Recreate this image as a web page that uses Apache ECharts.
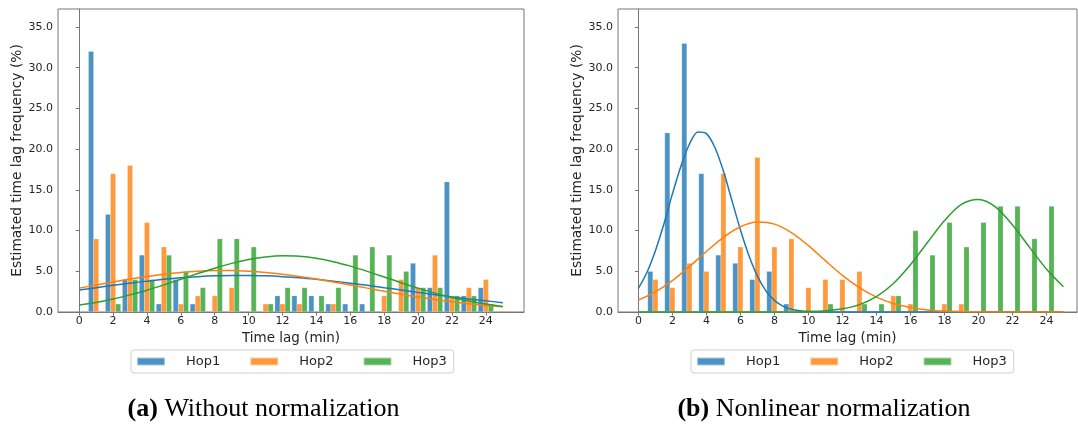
<!DOCTYPE html>
<html>
<head>
<meta charset="utf-8">
<script src="https://cdn.jsdelivr.net/npm/echarts@6/dist/echarts.min.js"></script>
<style>
html, body { margin: 0; padding: 0; background: #fff; }
#main { width: 1078px; height: 426px; }
</style>
</head>
<body>
<div id="main"></div>
<script>
// time lags (min) of the histogram bins
var lags = [1,2,3,4,5,6,7,8,9,10,11,12,13,14,15,16,17,18,19,20,21,22,23,24];
var hopNames = ['Hop1', 'Hop2', 'Hop3'];
var xTicks = [0,2,4,6,8,10,12,14,16,18,20,22,24];
var yTicks = [0,5,10,15,20,25,30,35];

// (a) without normalization, frequency in %
var rawHop1 = [32,12,4,7,1,4,1,0,0,0,0,2,2,2,1,1,1,0,0,6,3,16,2,3];
var rawHop2 = [9,17,18,11,8,1,2,2,3,0,1,1,1,0,1,0,0,2,4,3,7,2,3,4];
var rawHop3 = [0,1,4,4,7,5,3,9,9,8,1,3,3,2,3,7,8,7,5,3,3,2,2,1];

// (b) nonlinear normalization
var nlHop1 = [5,22,33,17,7,6,4,5,1,0,0,0,0,0,0,0,0,0,0,0,0,0,0,0];
var nlHop2 = [4,3,6,5,17,8,19,8,9,3,4,4,5,0,2,1,0,1,1,0,0,0,0,0];
var nlHop3 = [0,0,0,0,0,0,0,0,0,0,1,0,1,1,2,10,7,11,8,11,13,13,9,13];

// fitted curves
var fitX = [0,1,2,3,4,5,6,7,8,9,10,11,12,13,14,15,16,17,18,19,20,21,22,23,24,25];
var rawFit1 = [2.7,2.98,3.27,3.54,3.79,4.01,4.2,4.34,4.44,4.49,4.49,4.44,4.34,4.2,4.01,3.79,3.54,3.27,2.98,2.7,2.41,2.13,1.85,1.6,1.37,1.15];
var rawFit2 = [2.93,3.31,3.68,4.04,4.36,4.64,4.86,5.01,5.09,5.09,5.01,4.86,4.64,4.36,4.04,3.68,3.31,2.93,2.55,2.18,1.84,1.53,1.26,1.01,0.8,0.63];
var rawFit3 = [0.85,1.18,1.59,2.1,2.68,3.33,4.02,4.72,5.38,5.97,6.44,6.76,6.9,6.84,6.59,6.18,5.63,4.99,4.3,3.6,2.93,2.32,1.78,1.34,0.97,0.68];

var nlFit1X = [0,0.5,1,1.5,2,2.5,3,3.5,4,4.5,5,5.5,6,6.5,7,7.5,8,8.5,9,9.5,10,11,12,13,14,15,16,17,18,19,20,21,22,23,24,25];
var nlFit1 = [2.9,4.85,7.53,10.8,14.5,17.9,20.6,22.1,21.9,20.2,17.3,13.7,10.1,6.94,4.41,2.6,1.43,0.73,0.34,0.15,0.06,0,0,0,0,0,0,0,0,0,0,0,0,0,0,0];
var nlFit2 = [1.47,2.48,3.86,5.57,7.43,9.16,10.46,11.04,10.79,9.75,8.15,6.3,4.5,2.99,1.83,1.04,0.55,0.26,0.11,0.05,0.02,0,0,0,0,0];
var nlFit3 = [0,0,0,0,0,0,0,0,0,0,0.05,0.15,0.39,0.91,1.89,3.5,5.8,8.53,11.2,13.2,13.8,12.9,10.7,7.97,5.28,3.1];

var barColors = ['#4c92c3', '#ff993e', '#56b356'];
var lineColors = ['#1f77b4', '#ff7f0e', '#2ca02c'];
var offsets = [-0.3, 0, 0.3];
var axisGray = '#777';
var textColor = '#262626';

var myChart = echarts.init(document.getElementById('main'));

function barSeries(k, values, idx) {
    return {
        type: 'bar',
        name: hopNames[k],
        xAxisIndex: idx,
        yAxisIndex: idx,
        barWidth: 5.4,
        barGap: '-100%',
        z: 2,
        itemStyle: { color: barColors[k], borderColor: 'rgba(255,255,255,0.5)', borderWidth: 0.4 },
        data: lags.map(function (l, i) { return [l + offsets[k], values[i]]; })
                  .filter(function (d) { return d[1] > 0; })
    };
}

function lineSeries(k, xs, values, idx) {
    return {
        type: 'line',
        name: hopNames[k] + ' fit',
        xAxisIndex: idx,
        yAxisIndex: idx,
        showSymbol: false,
        smooth: 0.3,
        silent: true,
        z: 5,
        lineStyle: { color: lineColors[k], width: 1.5 },
        itemStyle: { color: lineColors[k] },
        data: xs.map(function (x, i) { return [x, values[i]]; })
    };
}

function xAxisOf(idx, min, max) {
    return {
        type: 'value', gridIndex: idx, min: min, max: max,
        name: 'Time lag (min)', nameLocation: 'middle', nameGap: 17,
        nameTextStyle: { fontSize: 13.5, color: textColor },
        splitLine: { show: false },
        axisLine: { lineStyle: { color: axisGray } },
        axisTick: { customValues: xTicks, length: 3.5, lineStyle: { color: axisGray } },
        axisLabel: { customValues: xTicks, fontSize: 11, color: textColor, margin: 4 }
    };
}

function yAxisOf(idx) {
    return {
        type: 'value', gridIndex: idx, min: 0, max: 37.2,
        name: 'Estimated time lag frequency (%)', nameLocation: 'middle', nameGap: 33,
        nameTextStyle: { fontSize: 13.8, color: textColor },
        splitLine: { show: false },
        axisLine: { show: true, lineStyle: { color: axisGray } },
        axisTick: { show: true, customValues: yTicks, length: 3.5, lineStyle: { color: axisGray } },
        axisLabel: { customValues: yTicks, fontSize: 11, color: textColor, margin: 5,
            formatter: function (v) { return v.toFixed(1); } }
    };
}

function legendOf(left) {
    return {
        left: left, top: 350, orient: 'horizontal',
        data: hopNames, icon: 'rect',
        itemWidth: 28, itemHeight: 8, itemGap: 29,
        textStyle: { fontSize: 13, color: textColor, padding: [0, 0, 0, 16] },
        borderColor: '#d0d0d0', borderWidth: 1, borderRadius: 3,
        padding: [5, 7, 5, 5]
    };
}

var option = {
    animation: false,
    textStyle: { fontFamily: 'DejaVu Sans' },
    grid: [
        { left: 58, top: 9, width: 466, height: 303, show: true, borderColor: axisGray, borderWidth: 1 },
        { left: 618, top: 9, width: 459, height: 303, show: true, borderColor: axisGray, borderWidth: 1 }
    ],
    xAxis: [xAxisOf(0, -1.25, 26.25), xAxisOf(1, -1.2, 25.8)],
    yAxis: [yAxisOf(0), yAxisOf(1)],
    legend: [legendOf(131), legendOf(691)],
    graphic: [
        { type: 'text', x: 263.5, y: 409, style: {
            text: '{b|(a)} Without normalization', align: 'center', verticalAlign: 'middle',
            fontSize: 26, fontFamily: 'Liberation Serif', fill: '#000',
            rich: { b: { fontSize: 26, fontFamily: 'Liberation Serif', fontWeight: 'bold', fill: '#000' } } } },
        { type: 'text', x: 824, y: 409, style: {
            text: '{b|(b)} Nonlinear normalization', align: 'center', verticalAlign: 'middle',
            fontSize: 26, fontFamily: 'Liberation Serif', fill: '#000',
            rich: { b: { fontSize: 26, fontFamily: 'Liberation Serif', fontWeight: 'bold', fill: '#000' } } } }
    ],
    series: [
        barSeries(0, rawHop1, 0), barSeries(1, rawHop2, 0), barSeries(2, rawHop3, 0),
        barSeries(0, nlHop1, 1), barSeries(1, nlHop2, 1), barSeries(2, nlHop3, 1),
        lineSeries(0, fitX, rawFit1, 0), lineSeries(1, fitX, rawFit2, 0), lineSeries(2, fitX, rawFit3, 0),
        lineSeries(0, nlFit1X, nlFit1, 1), lineSeries(1, fitX, nlFit2, 1), lineSeries(2, fitX, nlFit3, 1)
    ]
};

myChart.setOption(option);
</script>
</body>
</html>
